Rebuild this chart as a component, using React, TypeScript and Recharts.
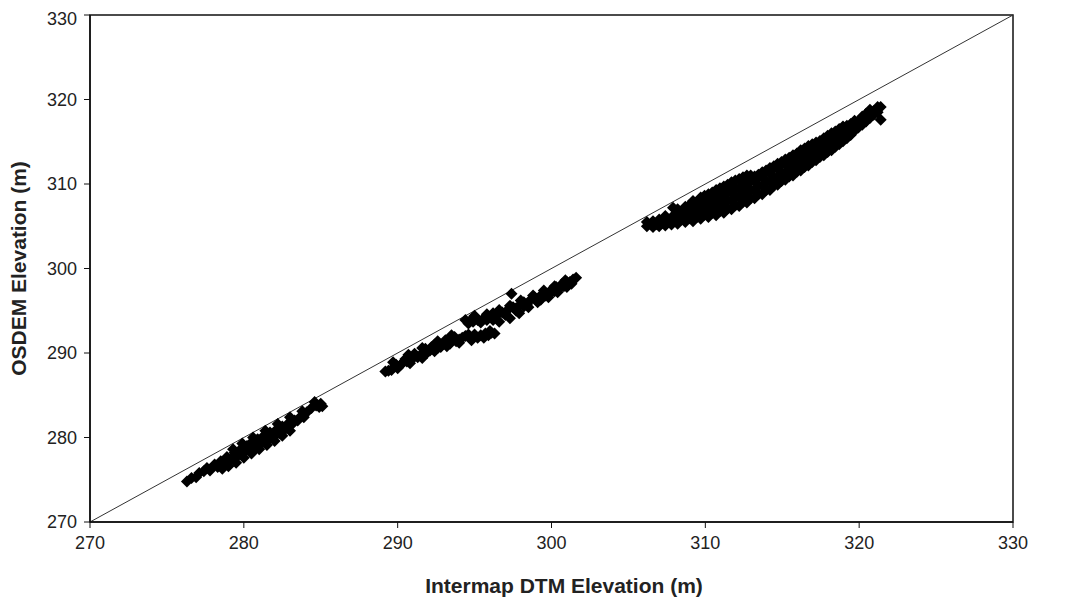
import { ScatterChart, Scatter, XAxis, YAxis, ReferenceLine, ReferenceArea, Label } from 'recharts'

const ticks = [270, 280, 290, 300, 310, 320, 330]

// intermap DTM (x) vs OSDEM (y)
const lowCluster: [number, number][] = [
  [276.3, 274.8], [276.6, 275.2], [276.9, 275.3], [277.1, 275.8], [277.4, 276.0], [277.6, 276.4],
  [277.8, 276.1], [278.1, 276.8], [278.3, 276.5], [278.5, 277.2], [278.8, 277.0], [278.9, 277.7],
  [279.2, 277.5], [279.4, 278.2], [279.6, 277.8], [279.8, 278.6], [280.0, 278.2], [280.2, 279.0],
  [280.4, 278.5], [280.5, 279.4], [280.8, 278.8], [280.9, 279.8], [281.1, 279.2], [281.3, 280.2],
  [281.5, 279.6], [281.7, 280.6], [281.9, 280.0], [282.1, 280.9], [282.3, 280.5], [282.5, 281.3],
  [282.7, 281.0], [282.9, 281.7], [283.1, 281.5], [283.3, 282.0], [283.5, 282.0], [283.7, 282.5],
  [283.9, 282.4], [284.1, 283.0], [284.4, 283.5], [284.7, 283.8], [284.9, 283.6],
  [278.6, 276.3], [279.0, 276.6], [279.5, 277.0], [280.0, 277.6], [280.5, 278.1], [281.0, 278.6],
  [281.5, 279.1], [282.0, 279.6], [282.5, 280.2], [283.0, 280.8],
  [279.3, 278.6], [279.9, 279.3], [280.6, 280.0], [281.4, 280.8], [282.2, 281.6], [283.0, 282.4],
  [283.8, 283.1], [284.6, 284.2], [285.0, 284.0], [285.1, 283.7],
]

const midCluster: [number, number][] = [
  [289.2, 287.8], [289.6, 288.0], [289.9, 288.6], [290.3, 288.8], [290.5, 289.3], [290.9, 289.2],
  [291.1, 289.9], [291.5, 289.8], [291.8, 290.5], [292.1, 290.3], [292.4, 291.0], [292.8, 290.7],
  [293.1, 291.5], [293.4, 291.1], [293.7, 291.9], [294.0, 291.6], [294.4, 292.0], [294.7, 291.9],
  [295.0, 292.2], [295.4, 292.1], [295.7, 292.3], [296.1, 292.4], [296.3, 292.3],
  [290.0, 288.2], [290.8, 288.8], [291.6, 289.4], [292.4, 290.2], [293.2, 290.8], [294.0, 291.2],
  [294.8, 291.5], [295.6, 291.8], [289.7, 288.9], [290.7, 289.8], [291.6, 290.6], [292.6, 291.4],
  [293.5, 292.1],
  [289.4, 287.9], [289.8, 288.4], [290.2, 288.6], [290.6, 289.0], [291.0, 289.5], [291.3, 289.5],
  [291.9, 290.0], [292.2, 290.7], [292.6, 290.6], [293.0, 291.1], [293.8, 291.4], [294.2, 291.8],
  [294.6, 292.2], [295.2, 291.8], [295.9, 292.1], [296.0, 292.6],
  [294.4, 293.9], [294.8, 294.0], [295.2, 293.9], [295.6, 294.1], [296.0, 294.3], [296.4, 294.4],
  [296.8, 294.8], [297.1, 295.0], [297.5, 295.4], [297.9, 295.6], [298.2, 296.0], [298.6, 296.2],
  [298.9, 296.6], [299.3, 296.8], [299.6, 297.1], [300.0, 297.5], [300.3, 297.8], [300.7, 298.2],
  [301.0, 298.4], [301.4, 298.7], [301.6, 298.9],
  [296.6, 293.7], [297.3, 294.1], [297.9, 294.7], [298.5, 295.4], [299.1, 296.0], [299.8, 296.6],
  [300.4, 297.2], [301.0, 297.8], [297.4, 297.0],
  [294.6, 293.5], [295.4, 293.6], [296.2, 293.9], [297.0, 294.5], [297.7, 295.0], [298.4, 295.7],
  [299.0, 296.3], [299.6, 296.8], [300.2, 297.3], [300.8, 297.9], [301.3, 298.2],
  [295.0, 294.4], [295.8, 294.6], [296.6, 295.1], [297.3, 295.6], [298.0, 296.2], [298.8, 296.8],
  [299.5, 297.4], [300.2, 297.9], [300.9, 298.6],
  [294.9, 293.7], [295.8, 293.9], [296.2, 294.7], [296.5, 294.6], [297.7, 295.3], [298.2, 295.5],
  [299.3, 296.3], [299.9, 297.0], [300.5, 297.6], [301.2, 298.4],
]

const highCluster: [number, number][] = [
  [306.2, 305.0], [306.2, 305.5], [306.6, 304.9], [306.6, 305.6], [307.0, 305.0], [307.0, 305.8],
  [307.4, 305.1], [307.4, 306.2], [307.9, 307.2], [307.8, 305.2], [307.8, 306.0],
  [308.2, 305.3], [308.2, 306.3], [308.2, 307.0], [308.7, 305.5], [308.7, 306.4], [308.7, 307.3],
  [309.2, 305.6], [309.2, 306.6], [309.2, 307.6], [309.2, 308.0],
  [309.7, 305.9], [309.7, 306.8], [309.7, 307.7], [309.7, 308.4],
  [310.2, 306.1], [310.2, 307.1], [310.2, 308.0], [310.2, 308.8],
  [310.7, 306.3], [310.7, 307.3], [310.7, 308.3], [310.7, 309.3],
  [311.2, 306.6], [311.2, 307.6], [311.2, 308.6], [311.2, 309.7],
  [311.7, 307.0], [311.7, 308.0], [311.7, 309.0], [311.7, 310.2],
  [312.2, 307.4], [312.2, 308.4], [312.2, 309.4], [312.2, 310.6],
  [312.7, 307.8], [312.7, 308.8], [312.7, 309.8], [312.7, 311.0],
  [313.2, 308.3], [313.2, 309.3], [313.2, 310.3], [313.2, 310.9],
  [313.7, 308.8], [313.7, 309.8], [313.7, 310.8], [313.7, 311.4],
  [314.2, 309.3], [314.2, 310.3], [314.2, 311.3], [314.2, 311.9],
  [314.7, 309.9], [314.7, 310.8], [314.7, 311.8], [314.7, 312.4],
  [315.2, 310.5], [315.2, 311.3], [315.2, 312.3], [315.2, 312.9],
  [315.7, 311.0], [315.7, 311.9], [315.7, 312.8], [315.7, 313.4],
  [316.2, 311.6], [316.2, 312.4], [316.2, 313.3], [316.2, 314.0],
  [316.7, 312.2], [316.7, 313.0], [316.7, 313.9], [316.7, 314.5],
  [317.2, 312.8], [317.2, 313.6], [317.2, 314.5], [317.2, 314.9],
  [317.7, 313.4], [317.7, 314.2], [317.7, 315.0], [317.7, 315.4],
  [318.2, 314.0], [318.2, 314.8], [318.2, 315.6], [318.2, 316.0],
  [318.7, 314.7], [318.7, 315.4], [318.7, 316.2], [318.7, 316.5],
  [319.2, 315.4], [319.2, 316.2], [319.2, 316.9],
  [319.7, 316.3], [319.7, 317.0], [319.7, 317.5],
  [320.2, 317.0], [320.2, 318.0], [320.7, 317.8], [320.7, 318.8], [321.2, 318.5], [321.2, 319.1],
  [321.4, 319.1], [321.4, 317.6],
  // staggered fill between the rows above
  [306.45, 305.25], [306.8, 305.25], [307.2, 305.4], [307.6, 305.65], [308.0, 305.6], [308.0, 306.4],
  [308.45, 305.8], [308.45, 306.65], [308.95, 305.95], [308.95, 306.85], [308.95, 307.5],
  [309.45, 306.1], [309.45, 307.1], [309.45, 307.8],
  [309.95, 306.35], [309.95, 307.25], [309.95, 308.05], [309.95, 308.6],
  [310.45, 306.6], [310.45, 307.55], [310.45, 308.4], [310.45, 309.0],
  [310.95, 306.8], [310.95, 307.8], [310.95, 308.8], [310.95, 309.5],
  [311.45, 307.1], [311.45, 308.1], [311.45, 309.15], [311.45, 309.9],
  [311.95, 307.5], [311.95, 308.5], [311.95, 309.6], [311.95, 310.4],
  [312.45, 307.9], [312.45, 308.9], [312.45, 310.0], [312.45, 310.8],
  [312.95, 308.3], [312.95, 309.3], [312.95, 310.4], [312.95, 311.0],
  [313.45, 308.8], [313.45, 309.8], [313.45, 310.85], [313.45, 311.1],
  [313.95, 309.3], [313.95, 310.3], [313.95, 311.35], [313.95, 311.6],
  [314.45, 309.8], [314.45, 310.8], [314.45, 311.85], [314.45, 312.1],
  [314.95, 310.35], [314.95, 311.3], [314.95, 312.35], [314.95, 312.6],
  [315.45, 310.9], [315.45, 311.8], [315.45, 312.85], [315.45, 313.1],
  [315.95, 311.45], [315.95, 312.35], [315.95, 313.35], [315.95, 313.6],
  [316.45, 312.0], [316.45, 312.85], [316.45, 313.9], [316.45, 314.2],
  [316.95, 312.6], [316.95, 313.45], [316.95, 314.45], [316.95, 314.7],
  [317.45, 313.2], [317.45, 314.05], [317.45, 314.95], [317.45, 315.1],
  [317.95, 313.8], [317.95, 314.6], [317.95, 315.45], [317.95, 315.7],
  [318.45, 314.4], [318.45, 315.2], [318.45, 316.05], [318.45, 316.2],
  [318.95, 315.05], [318.95, 315.8], [318.95, 316.7], [318.95, 316.8],
  [319.45, 315.8], [319.45, 316.7], [319.45, 317.1], [319.95, 316.7], [319.95, 317.4],
  [320.45, 317.4], [320.45, 318.0], [320.45, 318.3], [320.95, 318.2], [320.95, 318.6],
]

const points = [...lowCluster, ...midCluster, ...highCluster].map(([x, y]) => ({ x, y }))

const font = '"Liberation Sans", Arial, sans-serif'
const ink = '#111'

function Diamond(props: any) {
  const { cx, cy } = props
  if (cx == null || cy == null) return null
  const r = 6
  return (
    <polygon
      points={`${cx},${cy - r} ${cx + r},${cy} ${cx},${cy + r} ${cx - r},${cy}`}
      fill="#000"
    />
  )
}

export default function App() {
  return (
    <div style={{ width: 1052, height: 590, fontFamily: font, background: '#fff' }}>
      <ScatterChart width={1052} height={590} margin={{ top: 7, right: 47, bottom: 36, left: 0 }}>
        <XAxis
          type="number"
          dataKey="x"
          domain={[270, 330]}
          ticks={ticks}
          height={40}
          tickSize={6}
          tickMargin={8}
          axisLine={{ stroke: ink, strokeWidth: 1.5 }}
          tickLine={{ stroke: ink }}
          tick={{ fill: '#222', fontSize: 18, fontFamily: font }}
        >
          <Label
            content={(p: any) => (
              <text
                x={556}
                y={p.viewBox.y + 63}
                textAnchor="middle"
                dominantBaseline="central"
                fontWeight="bold"
                fontSize={21}
                fontFamily={font}
                fill="#222"
              >
                Intermap DTM Elevation (m)
              </text>
            )}
          />
        </XAxis>
        <YAxis
          type="number"
          dataKey="y"
          domain={[270, 330]}
          ticks={ticks}
          width={82}
          tickSize={6}
          tickMargin={7}
          axisLine={{ stroke: ink, strokeWidth: 1.5 }}
          tickLine={{ stroke: ink }}
          tick={{ fill: '#222', fontSize: 18, fontFamily: font }}
        >
          <Label
            content={(p: any) => (
              <text
                x={10}
                y={p.viewBox.y + p.viewBox.height / 2}
                transform={`rotate(-90 10 ${p.viewBox.y + p.viewBox.height / 2})`}
                textAnchor="middle"
                dominantBaseline="central"
                fontWeight="bold"
                fontSize={21}
                fontFamily={font}
                fill="#222"
              >
                OSDEM Elevation (m)
              </text>
            )}
          />
        </YAxis>
        <ReferenceArea
          x1={270}
          x2={330}
          y1={270}
          y2={330}
          fill="none"
          fillOpacity={0}
          stroke={ink}
          strokeWidth={1.5}
        />
        <ReferenceLine
          segment={[{ x: 270, y: 270 }, { x: 330, y: 330 }]}
          stroke="#333"
          strokeWidth={1}
        />
        <Scatter data={points} shape={Diamond} isAnimationActive={false} />
      </ScatterChart>
    </div>
  )
}
